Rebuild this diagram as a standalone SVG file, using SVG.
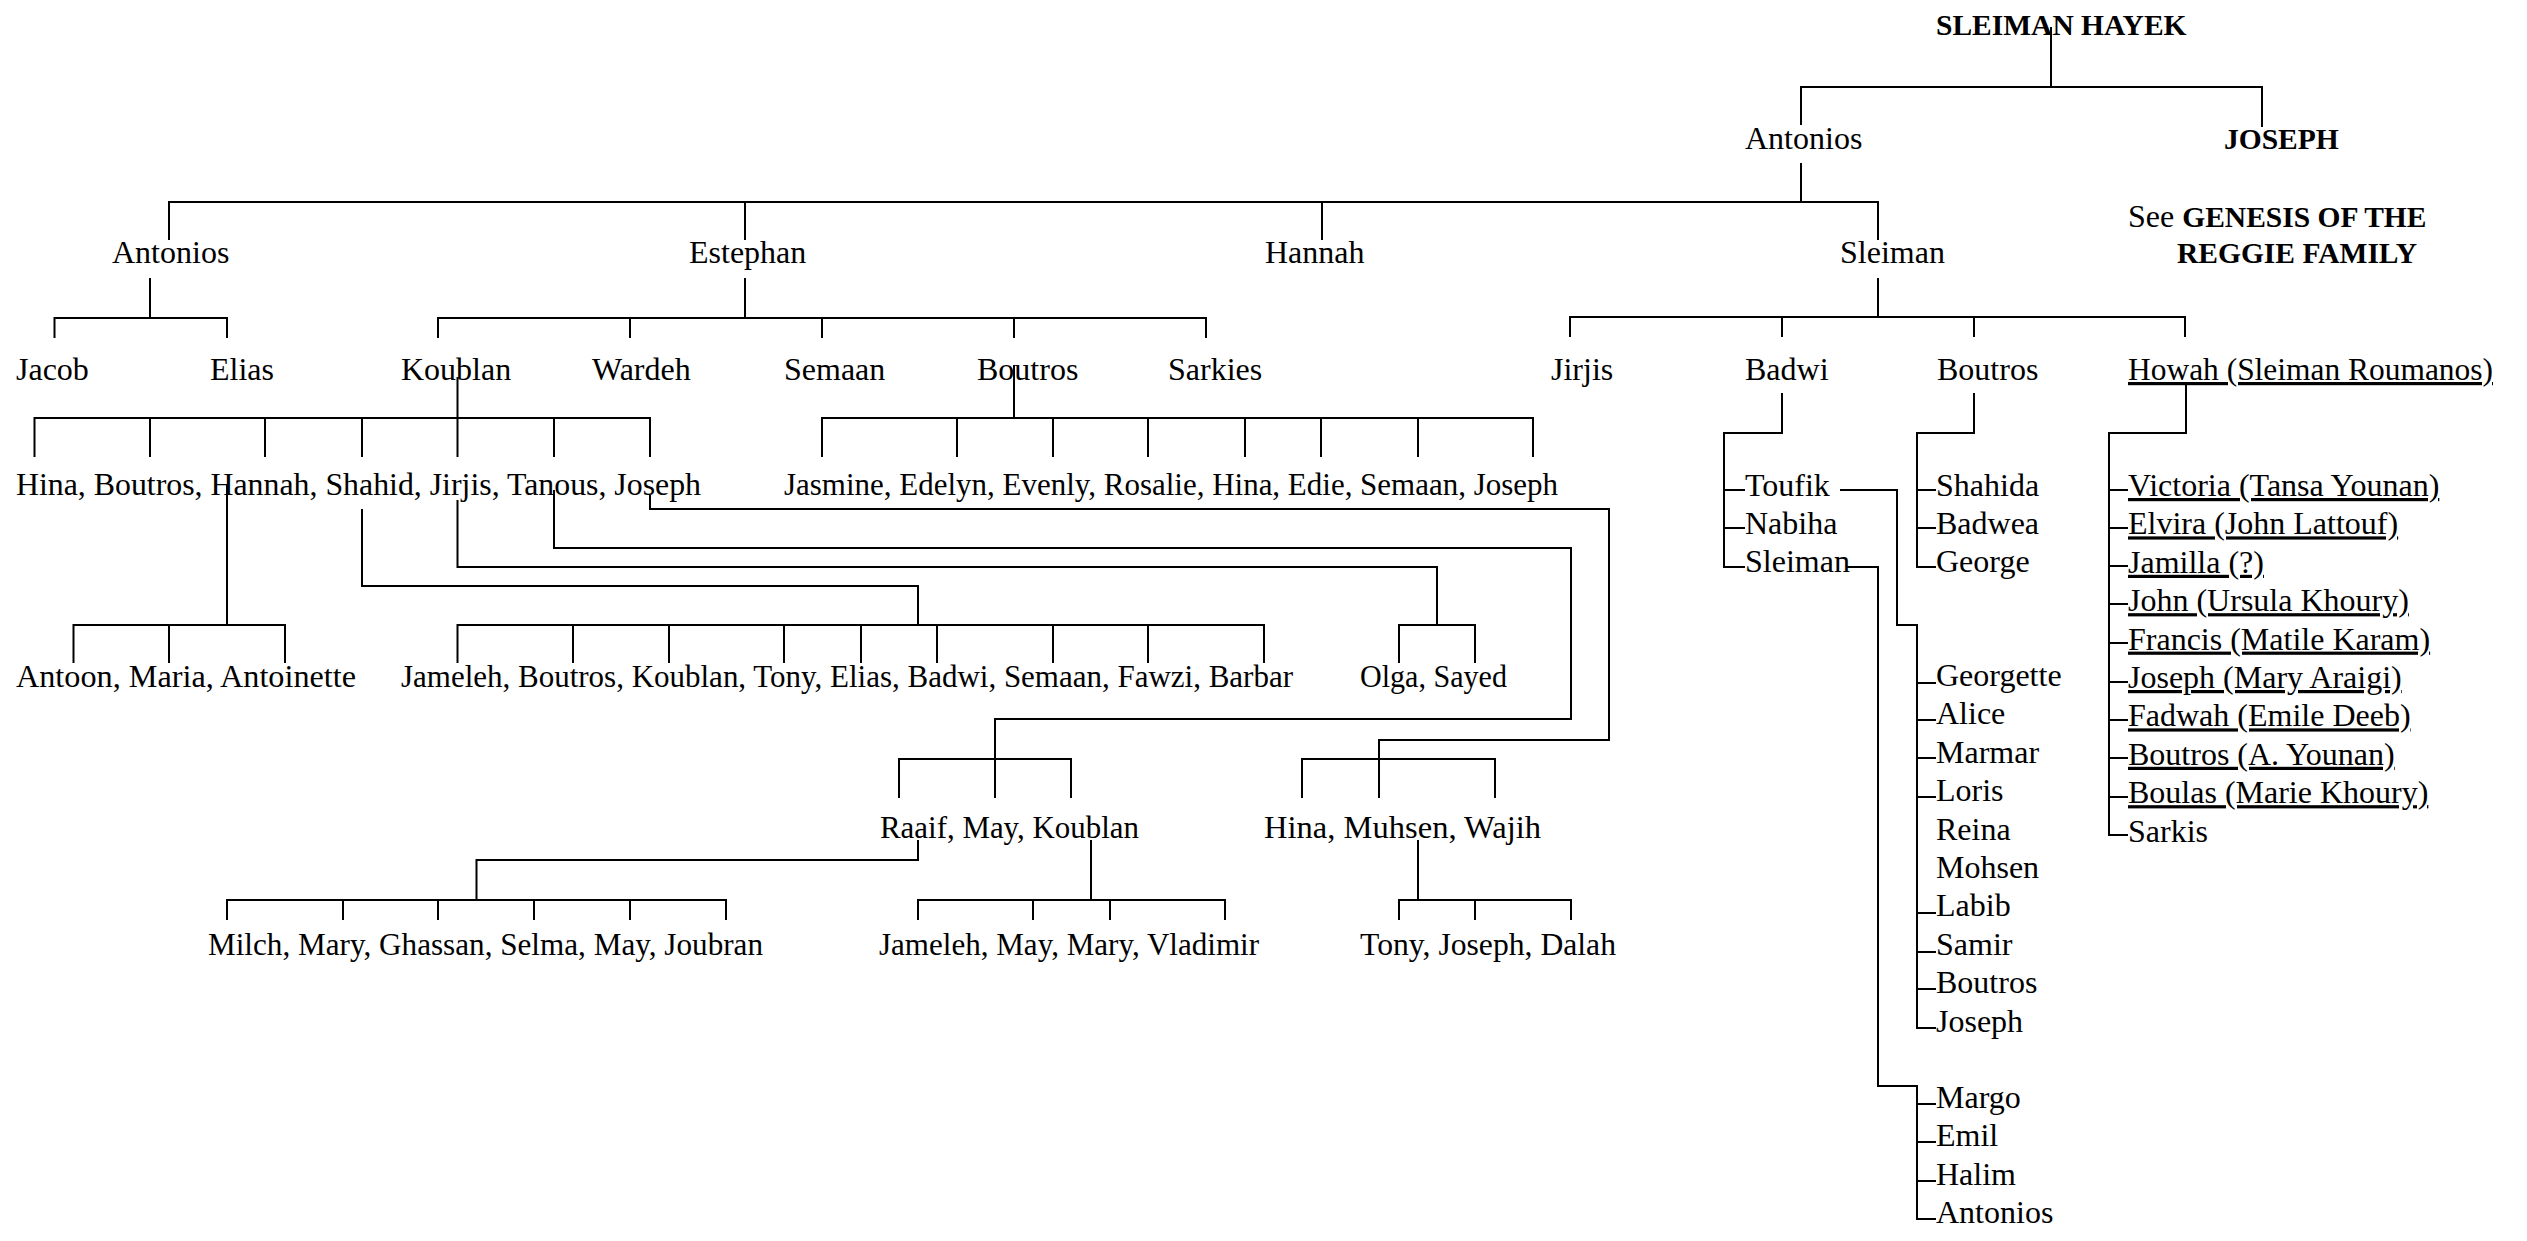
<svg xmlns="http://www.w3.org/2000/svg" width="2527" height="1241" viewBox="0 0 2527 1241">
<style>
text{font-family:"Liberation Serif","Times New Roman",serif;font-size:32px;fill:#000}
.b{font-weight:bold;font-size:29.5px}
.u{text-decoration:underline;text-decoration-skip-ink:none}
#connectors path{fill:none;stroke:#000;stroke-width:2}
</style>
<rect width="2527" height="1241" fill="#fff"/>
<g id="connectors">
<path d="M2051 27V87M1801 125V87H2262V127M1801 163V202"/>
<path d="M169 240V202H1878V240M745 202V240M1322 202V240"/>
<path d="M150 278V318M54.5 338V318H227V338"/>
<path d="M745 278V318M438 338V318H1206V338M630 318V338M822 318V338M1014 318V338"/>
<path d="M1878 278V317M1570 337V317H2185V337M1782 317V337M1974 317V337"/>
<path d="M457.5 377V418M34.5 457V418H650V457M150 418V457M265 418V457M362 418V457M457.5 418V457M554 418V457"/>
<path d="M1014 365V418M822 457V418H1533V457M957 418V457M1053 418V457M1148 418V457M1245 418V457M1321 418V457M1418 418V457"/>
<path d="M227 485V625M73.5 663V625H285V663M169 625V663"/>
<path d="M362 509V586H918V625M457.5 663V625H1264V663M573 625V663M669 625V663M784 625V663M861 625V663M937 625V663M1053 625V663M1148 625V663"/>
<path d="M457.5 500V567H1437V625M1399 663V625H1475V663"/>
<path d="M554 490V548H1571V719H995V798M899 798V759H1071V798"/>
<path d="M650 495V509H1609V740H1379V798M1302 798V759H1495V798"/>
<path d="M918 840V860H476.5V900M227 920V900H726V920M343 900V920M438 900V920M534 900V920M630 900V920"/>
<path d="M1091 840V900M918 920V900H1225V920M1033 900V920M1110 900V920"/>
<path d="M1418 840V900M1399 920V900H1571V920M1475 900V920"/>
<path d="M1782 393V433H1724V567H1745M1724 490H1745M1724 528H1745"/>
<path d="M1840 490H1897V625H1917V1028H1936M1917 683H1936M1917 720H1936M1917 758H1936M1917 797H1936M1917 913H1936M1917 952H1936M1917 989H1936"/>
<path d="M1846 567H1878V1086H1917V1219H1936M1917 1104H1936M1917 1142H1936M1917 1181H1936"/>
<path d="M1974 393V433H1917V567H1936M1917 490H1936M1917 528H1936"/>
<path d="M2186 385V433H2109V835H2128M2109 490H2128M2109 528H2128M2109 566H2128M2109 604H2128M2109 643H2128M2109 682H2128M2109 720H2128M2109 758H2128M2109 797H2128"/>
</g>
<g id="n-sleiman-hayek"><text class="b" x="1936" y="35">SLEIMAN HAYEK</text></g>
<g id="n-antonios-1"><text x="1745" y="149">Antonios</text></g>
<g id="n-joseph-1"><text class="b" x="2224" y="149">JOSEPH</text></g>
<g id="n-see-genesis"><text x="2128" y="227">See <tspan class="b">GENESIS OF THE</tspan></text><text class="b" x="2177" y="263">REGGIE FAMILY</text></g>
<g id="n-antonios-2"><text x="112" y="263">Antonios</text></g>
<g id="n-estephan"><text x="689" y="263">Estephan</text></g>
<g id="n-hannah"><text x="1265" y="263">Hannah</text></g>
<g id="n-sleiman-2"><text x="1840" y="263">Sleiman</text></g>
<g id="n-jacob"><text x="16" y="380">Jacob</text></g>
<g id="n-elias"><text x="210" y="380">Elias</text></g>
<g id="n-koublan"><text x="401" y="380">Koublan</text></g>
<g id="n-wardeh"><text x="592" y="380">Wardeh</text></g>
<g id="n-semaan"><text x="784" y="380">Semaan</text></g>
<g id="n-boutros-e"><text x="977" y="380">Boutros</text></g>
<g id="n-sarkies"><text x="1168" y="380">Sarkies</text></g>
<g id="n-jirjis"><text x="1551" y="380">Jirjis</text></g>
<g id="n-badwi"><text x="1745" y="380">Badwi</text></g>
<g id="n-boutros-s"><text x="1937" y="380">Boutros</text></g>
<g id="n-howah"><text class="u" x="2128" y="380" textLength="365" lengthAdjust="spacingAndGlyphs">Howah (Sleiman Roumanos)</text></g>
<g id="n-koublan-children"><text x="16" y="495" textLength="685" lengthAdjust="spacingAndGlyphs">Hina, Boutros, Hannah, Shahid, Jirjis, Tanous, Joseph</text></g>
<g id="n-boutros-children"><text x="784" y="495" textLength="774" lengthAdjust="spacingAndGlyphs">Jasmine, Edelyn, Evenly, Rosalie, Hina, Edie, Semaan, Joseph</text></g>
<g id="n-badwi-children"><text x="1745" y="496">Toufik</text><text x="1745" y="534">Nabiha</text><text x="1745" y="572">Sleiman</text></g>
<g id="n-boutros-s-children"><text x="1936" y="496">Shahida</text><text x="1936" y="534">Badwea</text><text x="1936" y="572">George</text></g>
<g id="n-howah-children">
<text class="u" x="2128" y="496">Victoria (Tansa Younan)</text>
<text class="u" x="2128" y="534.4">Elvira (John Lattouf)</text>
<text class="u" x="2128" y="572.8">Jamilla (?)</text>
<text class="u" x="2128" y="611.2">John (Ursula Khoury)</text>
<text class="u" x="2128" y="649.6">Francis (Matile Karam)</text>
<text class="u" x="2128" y="688">Joseph (Mary Araigi)</text>
<text class="u" x="2128" y="726.4">Fadwah (Emile Deeb)</text>
<text class="u" x="2128" y="764.8">Boutros (A. Younan)</text>
<text class="u" x="2128" y="803.2">Boulas (Marie Khoury)</text>
<text x="2128" y="841.6">Sarkis</text>
</g>
<g id="n-toufik-children">
<text x="1936" y="686">Georgette</text>
<text x="1936" y="724.4">Alice</text>
<text x="1936" y="762.8">Marmar</text>
<text x="1936" y="801.2">Loris</text>
<text x="1936" y="839.6">Reina</text>
<text x="1936" y="878">Mohsen</text>
<text x="1936" y="916.4">Labib</text>
<text x="1936" y="954.8">Samir</text>
<text x="1936" y="993.2">Boutros</text>
<text x="1936" y="1031.6">Joseph</text>
</g>
<g id="n-sleiman-children">
<text x="1936" y="1108">Margo</text>
<text x="1936" y="1146.4">Emil</text>
<text x="1936" y="1184.8">Halim</text>
<text x="1936" y="1223.2">Antonios</text>
</g>
<g id="n-hannah-children"><text x="16" y="687" textLength="340" lengthAdjust="spacingAndGlyphs">Antoon, Maria, Antoinette</text></g>
<g id="n-shahid-children"><text x="401" y="687" textLength="892" lengthAdjust="spacingAndGlyphs">Jameleh, Boutros, Koublan, Tony, Elias, Badwi, Semaan, Fawzi, Barbar</text></g>
<g id="n-jirjis-children"><text x="1360" y="687" textLength="147" lengthAdjust="spacingAndGlyphs">Olga, Sayed</text></g>
<g id="n-tanous-children"><text x="880" y="838" textLength="259" lengthAdjust="spacingAndGlyphs">Raaif, May, Koublan</text></g>
<g id="n-joseph-children"><text x="1264" y="838" textLength="277" lengthAdjust="spacingAndGlyphs">Hina, Muhsen, Wajih</text></g>
<g id="n-raaif-children"><text x="208" y="955" textLength="555" lengthAdjust="spacingAndGlyphs">Milch, Mary, Ghassan, Selma, May, Joubran</text></g>
<g id="n-koublan2-children"><text x="879" y="955" textLength="380" lengthAdjust="spacingAndGlyphs">Jameleh, May, Mary, Vladimir</text></g>
<g id="n-muhsen-children"><text x="1360" y="955" textLength="256" lengthAdjust="spacingAndGlyphs">Tony, Joseph, Dalah</text></g>
</svg>
